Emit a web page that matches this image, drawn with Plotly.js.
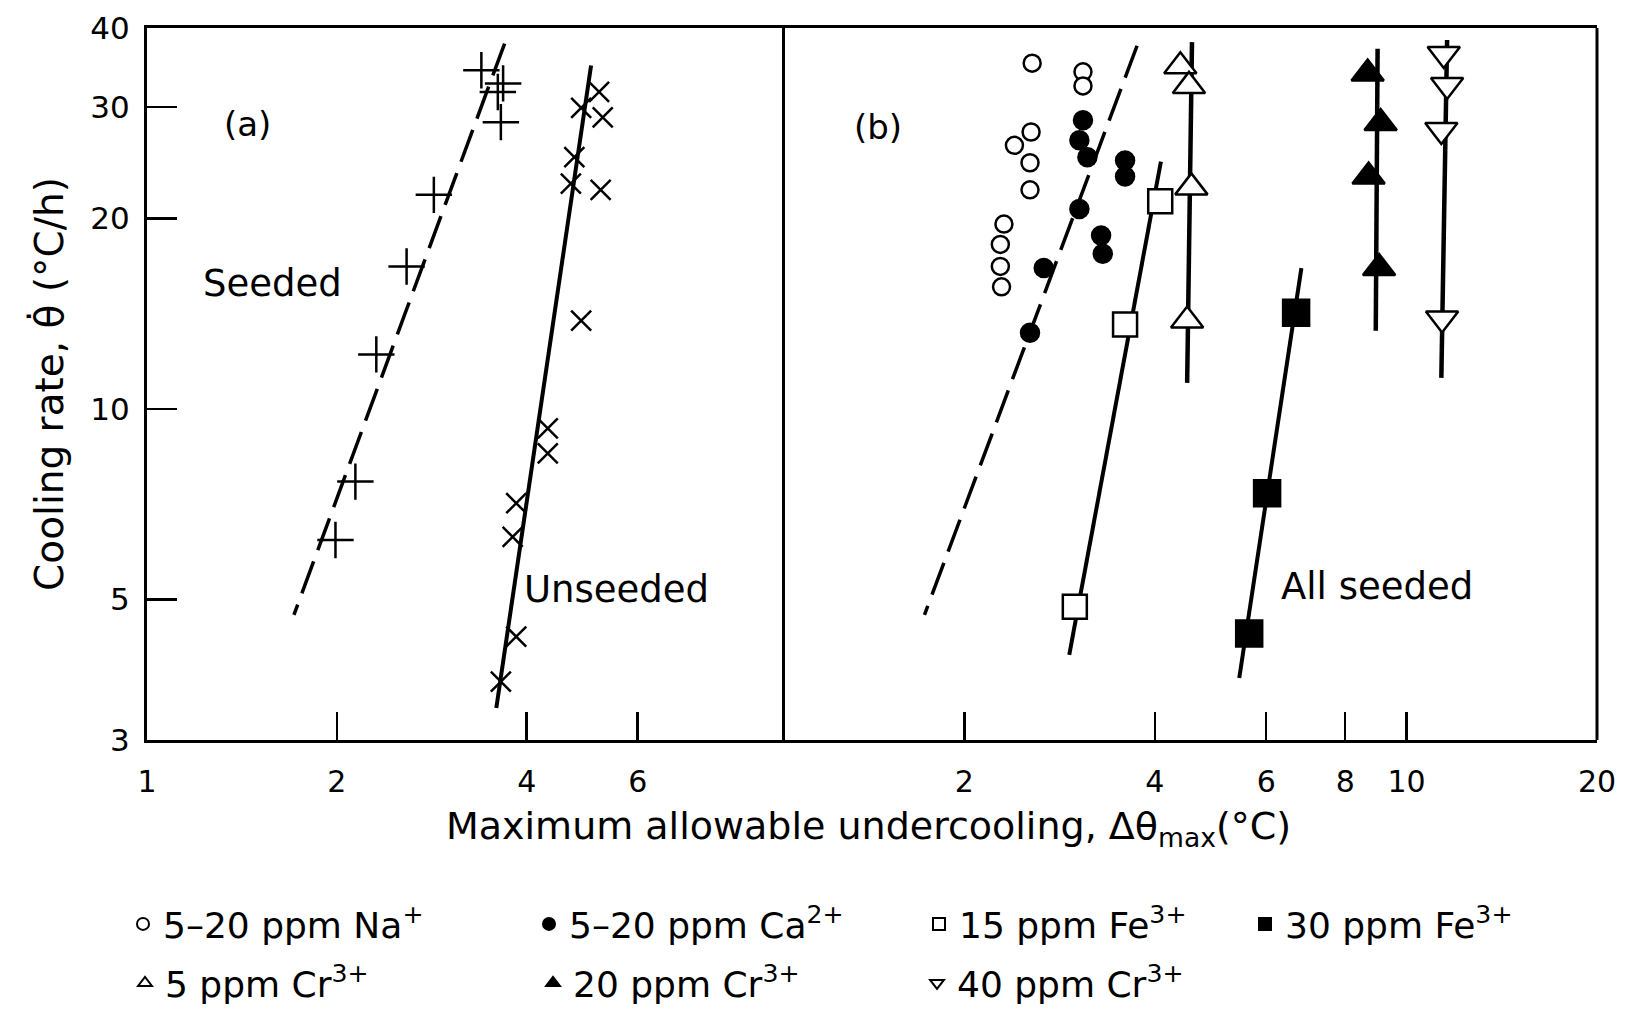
<!DOCTYPE html>
<html>
<head>
<meta charset="utf-8">
<script src="https://cdn.plot.ly/plotly-3.0.1.min.js"></script>
<style>html,body{margin:0;padding:0;background:#fff;}#chart{width:1631px;height:1014px;}</style>
</head>
<body>
<div id="chart"></div>
<script>
// ---------- Data ----------
// Panel (a)
const seededX = [3.39, 3.67, 3.60, 3.64, 2.85, 2.58, 2.31, 2.14, 1.99];
const seededY = [34.3, 32.7, 31.7, 28.4, 21.8, 16.8, 12.2, 7.68, 6.21];
const seededLineX = [3.69, 1.71];
const seededLineY = [37.8, 4.73];
const unseededX = [5.21, 4.88, 5.28, 4.76, 4.70, 5.24, 4.88, 4.32, 4.32, 3.85, 3.80, 3.85, 3.64];
const unseededY = [31.7, 29.9, 28.9, 25.0, 22.7, 22.2, 13.8, 9.32, 8.51, 7.10, 6.28, 4.37, 3.71];
const unseededLineX = [5.06, 3.58];
const unseededLineY = [34.9, 3.37];
// Panel (b)
const naX = [2.56, 3.08, 3.08, 2.55, 2.40, 2.54, 2.54, 2.31, 2.28, 2.28, 2.29];
const naY = [35.2, 34.1, 32.4, 27.4, 26.1, 24.5, 22.2, 19.6, 18.2, 16.8, 15.6];
const caX = [3.08, 3.04, 3.13, 3.59, 3.59, 3.04, 3.29, 3.31, 2.67, 2.54];
const caY = [28.6, 26.6, 25.0, 24.7, 23.3, 20.7, 18.8, 17.6, 16.7, 13.2];
const bDashX = [3.75, 1.73];
const bDashY = [37.5, 4.73];
const fe15X = [4.08, 3.59, 2.99];
const fe15Y = [21.3, 13.6, 4.87];
const fe15LineX = [4.09, 2.93];
const fe15LineY = [24.6, 4.09];
const fe30X = [6.69, 6.02, 5.64];
const fe30Y = [14.2, 7.36, 4.42];
const fe30LineX = [6.82, 5.44];
const fe30LineY = [16.7, 3.76];
const cr5X = [4.39, 4.53, 4.57, 4.50];
const cr5Y = [34.8, 32.4, 22.4, 13.8];
const cr5LineX = [4.58, 4.50];
const cr5LineY = [38.0, 11.0];
const cr20X = [8.68, 9.10, 8.71, 9.05];
const cr20Y = [33.9, 28.3, 23.3, 16.7];
const cr20LineX = [9.0, 8.94];
const cr20LineY = [37.1, 13.3];
const cr40X = [11.45, 11.59, 11.35, 11.38];
const cr40Y = [36.4, 32.5, 27.6, 13.9];
const cr40LineX = [11.59, 11.35];
const cr40LineY = [38.3, 11.2];

// Tick labels
const yTicks = [3, 5, 10, 20, 30, 40];
const yTickText = ['3', '5', '10', '20', '30', '40'];
const xTicksA = [1, 2, 4, 6];
const xTickTextA = ['1', '2', '4', '6'];
const xTicksB = [2, 4, 6, 8, 10, 20];
const xTickTextB = ['2', '4', '6', '8', '10', '20'];

// Legend labels
const legendNames = {
  na: '5–20 ppm Na<sup>+</sup>',
  ca: '5–20 ppm Ca<sup>2+</sup>',
  fe15: '15 ppm Fe<sup>3+</sup>',
  fe30: '30 ppm Fe<sup>3+</sup>',
  cr5: '5 ppm Cr<sup>3+</sup>',
  cr20: '20 ppm Cr<sup>3+</sup>',
  cr40: '40 ppm Cr<sup>3+</sup>'
};

// ---------- Styling / layout helpers ----------
const FONT = 'DejaVu Sans, Liberation Sans, sans-serif';
const L = 147, R = 1597, T = 28, B = 740, W = 1631, H = 1014;
const px2x = p => (p - L) / (R - L);
const py2y = p => (B - p) / (B - T);
const splitX = px2x(782);

function lineTrace(x, y, xaxis, dash, width) {
  return {x: x, y: y, xaxis: xaxis, yaxis: 'y', mode: 'lines', showlegend: false, hoverinfo: 'skip',
    line: {color: 'black', width: width || 4, dash: dash || 'solid'}};
}
function markTrace(x, y, xaxis, symbol, size, fill, name, legend) {
  const t = {x: x, y: y, xaxis: xaxis, yaxis: 'y', mode: 'markers', name: name || '',
    showlegend: !!name,
    marker: {symbol: symbol, size: size, color: fill, line: {color: 'black', width: 2.5}}};
  if (legend) t.legend = legend;
  return t;
}

const traces = [
  lineTrace(seededLineX, seededLineY, 'x', '34px,12px', 3.5),
  lineTrace(unseededLineX, unseededLineY, 'x', 'solid', 4),
  lineTrace(bDashX, bDashY, 'x2', '34px,12px', 3.5),
  lineTrace(fe15LineX, fe15LineY, 'x2', 'solid', 4),
  lineTrace(fe30LineX, fe30LineY, 'x2', 'solid', 4),
  lineTrace(cr5LineX, cr5LineY, 'x2', 'solid', 4.5),
  lineTrace(cr20LineX, cr20LineY, 'x2', 'solid', 4.5),
  lineTrace(cr40LineX, cr40LineY, 'x2', 'solid', 4.5),
  markTrace(seededX, seededY, 'x', 'cross-thin', 26, 'black'),
  markTrace(unseededX, unseededY, 'x', 'x-thin', 20, 'black'),
  markTrace(naX, naY, 'x2', 'circle', 17, 'white', legendNames.na, 'legend'),
  markTrace(caX, caY, 'x2', 'circle', 18, 'black', legendNames.ca, 'legend2'),
  markTrace(fe15X, fe15Y, 'x2', 'square', 24, 'white', legendNames.fe15, 'legend3'),
  markTrace(fe30X, fe30Y, 'x2', 'square', 26, 'black', legendNames.fe30, 'legend4'),
  markTrace(cr5X, cr5Y, 'x2', 'triangle-up', 28, 'white', legendNames.cr5, 'legend5'),
  markTrace(cr20X, cr20Y, 'x2', 'triangle-up', 28, 'black', legendNames.cr20, 'legend6'),
  markTrace(cr40X, cr40Y, 'x2', 'triangle-down', 28, 'white', legendNames.cr40, 'legend7')
];

function legendAt(textStartPx, centerPy) {
  return {x: px2x(textStartPx - 38), y: py2y(centerPy), xref: 'paper', yref: 'paper',
    xanchor: 'left', yanchor: 'middle', orientation: 'h', bgcolor: 'rgba(0,0,0,0)',
    borderwidth: 0, itemsizing: 'constant', font: {family: FONT, size: 36, color: 'black'}};
}

const axisCommon = {
  type: 'log', showgrid: false, zeroline: false, showline: true, linecolor: 'black', linewidth: 3,
  ticks: 'inside', tickcolor: 'black', tickwidth: 2.5, ticklen: 28
};

const layout = {
  width: W, height: H,
  margin: {l: L, r: W - R, t: T, b: H - B, autoexpand: false},
  paper_bgcolor: 'white', plot_bgcolor: 'white',
  showlegend: true,
  font: {family: FONT, color: 'black'},
  xaxis: Object.assign({}, axisCommon, {
    domain: [0, splitX], range: [0, Math.log10(10.16)], anchor: 'y', mirror: true,
    tickmode: 'array', tickvals: xTicksA, ticktext: xTickTextA,
    tickfont: {family: FONT, size: 30, color: 'black'}, ticklabelstandoff: 13
  }),
  xaxis2: Object.assign({}, axisCommon, {
    domain: [splitX, 1], range: [Math.log10(1.03), Math.log10(20)], anchor: 'y', mirror: true,
    tickmode: 'array', tickvals: xTicksB, ticktext: xTickTextB,
    tickfont: {family: FONT, size: 30, color: 'black'}, ticklabelstandoff: 13
  }),
  yaxis: Object.assign({}, axisCommon, {
    domain: [0, 1], range: [Math.log10(3), Math.log10(40)], anchor: 'x', mirror: true, ticklen: 30,
    tickmode: 'array', tickvals: yTicks, ticktext: yTickText,
    tickfont: {family: FONT, size: 31, color: 'black'}, ticklabelstandoff: 8,
    title: {text: 'Cooling rate, θ̇ (°C/h)', font: {family: FONT, size: 39, color: 'black'}, standoff: 15}
  }),
  shapes: [
    {type: 'line', xref: 'paper', yref: 'paper', x0: 1, x1: 1, y0: 0, y1: 1,
     line: {color: 'black', width: 3}}
  ],
  legend: legendAt(161, 924),
  legend2: legendAt(567, 924),
  legend3: legendAt(957, 924),
  legend4: legendAt(1283, 924),
  legend5: legendAt(163, 983),
  legend6: legendAt(571, 983),
  legend7: legendAt(955, 983),
  annotations: [
    {text: '(a)', x: px2x(247), y: py2y(124), xref: 'paper', yref: 'paper', showarrow: false,
     xanchor: 'center', yanchor: 'middle', font: {family: FONT, size: 34, color: 'black'}},
    {text: 'Seeded', x: px2x(272), y: py2y(283), xref: 'paper', yref: 'paper', showarrow: false,
     xanchor: 'center', yanchor: 'middle', font: {family: FONT, size: 37, color: 'black'}},
    {text: 'Unseeded', x: px2x(616), y: py2y(589), xref: 'paper', yref: 'paper', showarrow: false,
     xanchor: 'center', yanchor: 'middle', font: {family: FONT, size: 37, color: 'black'}},
    {text: '(b)', x: px2x(878), y: py2y(127), xref: 'paper', yref: 'paper', showarrow: false,
     xanchor: 'center', yanchor: 'middle', font: {family: FONT, size: 34, color: 'black'}},
    {text: 'All seeded', x: px2x(1377), y: py2y(586), xref: 'paper', yref: 'paper', showarrow: false,
     xanchor: 'center', yanchor: 'middle', font: {family: FONT, size: 37, color: 'black'}},
    {text: 'Maximum allowable undercooling, Δθ<sub>max</sub>(°C)', x: px2x(868), y: py2y(828),
     xref: 'paper', yref: 'paper', showarrow: false, xanchor: 'center', yanchor: 'middle',
     font: {family: FONT, size: 38, color: 'black'}}
  ]
};

Plotly.newPlot('chart', traces, layout, {staticPlot: true, displayModeBar: false});
</script>
</body>
</html>
